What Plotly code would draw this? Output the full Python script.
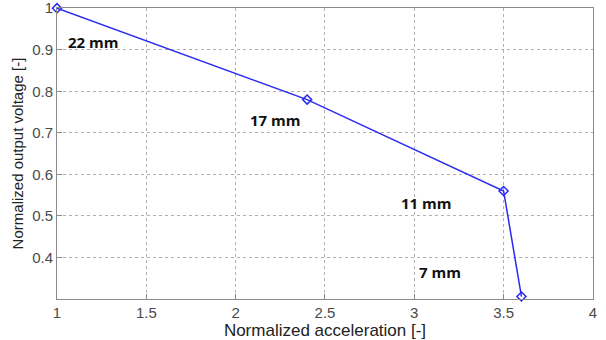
import plotly.graph_objects as go

accel = [1.0, 2.4, 3.5, 3.6]
voltage = [1.0, 0.78, 0.56, 0.306]

labels = ["22 mm", "17 mm", "11 mm", "7 mm"]
label_x = [1.205, 2.225, 3.07, 3.146]
label_y = [0.919, 0.731, 0.530, 0.366]

x_ticks = [1, 1.5, 2, 2.5, 3, 3.5, 4]
x_ticktext = ["1", "1.5", "2", "2.5", "3", "3.5", "4"]
y_ticks = [0.4, 0.5, 0.6, 0.7, 0.8, 0.9, 1.0]
y_ticktext = ["0.4", "0.5", "0.6", "0.7", "0.8", "0.9", "1"]

fig = go.Figure()
fig.add_trace(go.Scatter(
    x=accel, y=voltage, mode="lines+markers",
    line=dict(color="#2a2af0", width=1.5),
    marker=dict(symbol="diamond-open", size=7, color="#2a2af0", line=dict(width=1.5)),
    showlegend=False, cliponaxis=False,
))

for t, lx, ly in zip(labels, label_x, label_y):
    fig.add_annotation(x=lx, y=ly, text=t, showarrow=False,
                       font=dict(family="Open Sans", size=15, color="#111111", weight="bold"))

axis_common = dict(
    showline=True, mirror=True, linecolor="#8a8a8a", linewidth=1,
    showgrid=True, gridcolor="#b0b0b0", griddash="dot", gridwidth=1,
    ticks="inside", ticklen=5, tickcolor="#8a8a8a",
    zeroline=False, automargin=False, ticklabeloverflow="allow",
    tickfont=dict(family="Liberation Sans", size=15, color="#4a4a4a"),
)

fig.update_xaxes(range=[1, 4.0005], tickvals=x_ticks, ticktext=x_ticktext,
                 title=dict(text="Normalized acceleration [-]", standoff=1,
                            font=dict(family="Liberation Sans", size=17, color="#222222")),
                 **axis_common)
fig.update_yaxes(range=[0.3, 1.0005], tickvals=y_ticks, ticktext=y_ticktext,
                 title=dict(text="Normalized output voltage [-]", standoff=4,
                            font=dict(family="Liberation Sans", size=15, color="#222222")),
                 **axis_common)

fig.update_layout(
    width=606, height=340,
    margin=dict(l=57, r=13, t=8, b=41),
    paper_bgcolor="white", plot_bgcolor="white",
)

fig.write_html("out.html")
